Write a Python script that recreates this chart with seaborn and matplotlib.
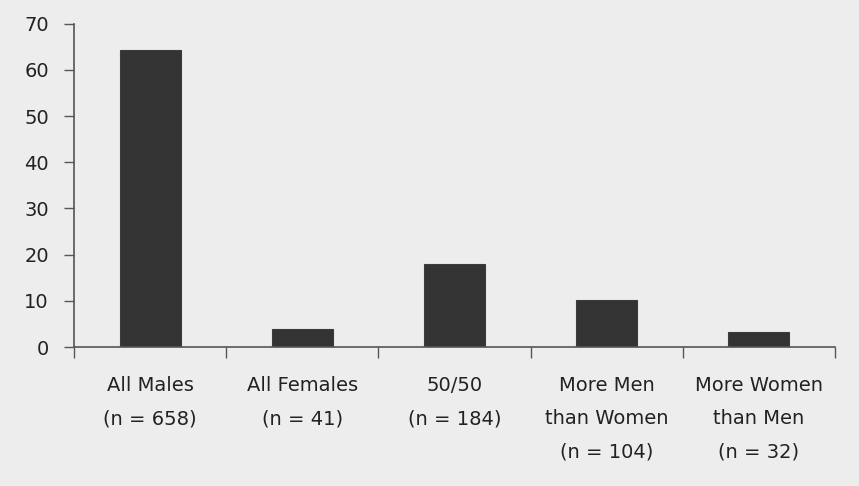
import matplotlib
matplotlib.use("Agg")
import matplotlib.pyplot as plt
import seaborn as sns
import pandas as pd
import numpy as np

# datos
categorias = ["All Males\n(n = 658)", "All Females\n(n = 41)", "50/50\n(n = 184)",
              "More Men\nthan Women\n(n = 104)", "More Women\nthan Men\n(n = 32)"]
valores = [64.4, 4.0, 17.9, 10.1, 3.2]
ticks_y = [0, 10, 20, 30, 40, 50, 60, 70]

df = pd.DataFrame({"grupo": categorias, "porcentaje": valores})

sns.set_style("white")
plt.rcParams["font.family"] = ["DejaVu Sans"]

fondo = "#ededed"
fig = plt.figure(figsize=(8.59, 4.86), dpi=100, facecolor=fondo)
ax = fig.add_axes([0.0861, 0.286, 0.886, 0.665], facecolor=fondo)

sns.barplot(data=df, x="grupo", y="porcentaje", color="#333333", width=0.4,
            saturation=1, edgecolor="#3c3c3c", linewidth=0.8, ax=ax)

ax.set_xlim(-0.5, len(categorias) - 0.5)
ax.set_ylim(0, 70)
ax.set_yticks(ticks_y)
ax.set_xlabel("")
ax.set_ylabel("")

# marcas entre categorias, estilo excel
ax.set_xticks(np.arange(-0.5, len(categorias), 1), minor=True)
ax.tick_params(axis="x", which="major", bottom=False, length=0, pad=21,
               labelsize=14, labelcolor="#222222")
ax.tick_params(axis="x", which="minor", bottom=True, length=8, width=1,
               color="#555555", direction="out")
ax.tick_params(axis="y", left=True, length=7, width=1, color="#555555", labelsize=14,
               labelcolor="#222222", pad=11)
for lbl in ax.get_xticklabels():
    lbl.set_linespacing(1.95)
    lbl.set_verticalalignment("top")

for lado in ["top", "right"]:
    ax.spines[lado].set_visible(False)
for lado in ["left", "bottom"]:
    ax.spines[lado].set_color("#555555")
    ax.spines[lado].set_linewidth(1.2)

plt.savefig("out.png", dpi=100, facecolor=fondo)
